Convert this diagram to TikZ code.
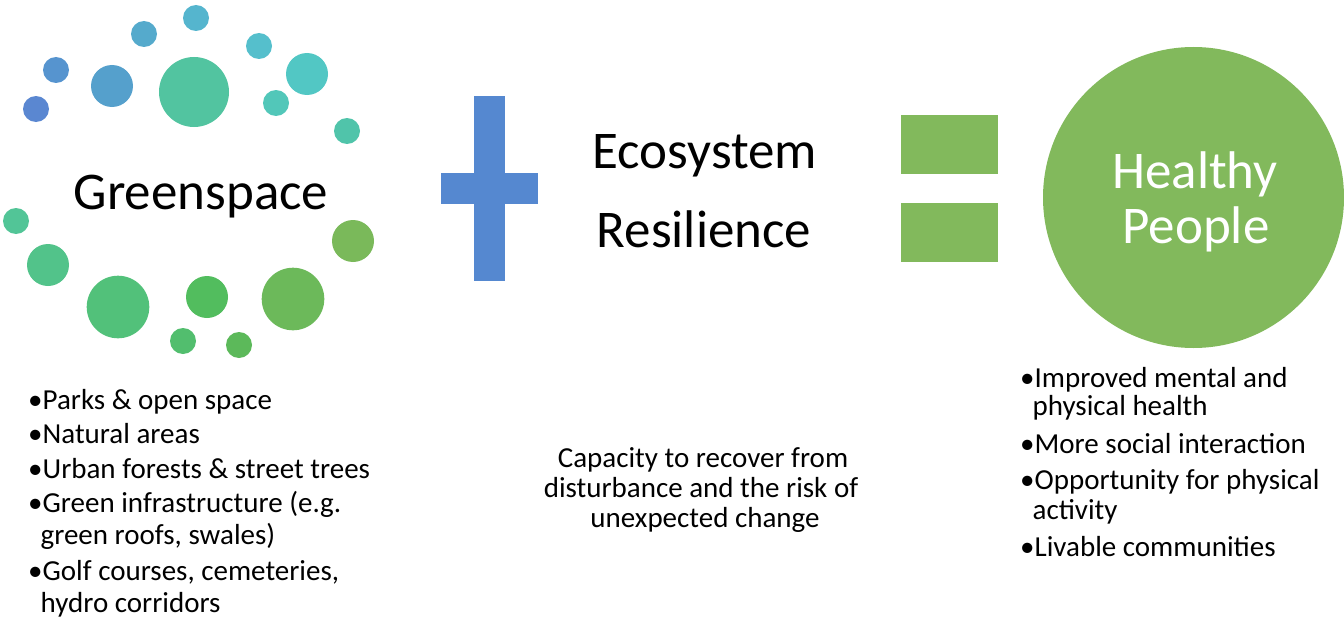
\documentclass[tikz,border=0pt]{standalone}
\usepackage{fontspec}
\setmainfont{Carlito}

\definecolor{plusblue}{HTML}{5588D0}
\definecolor{eqgreen}{HTML}{82B95C}
\definecolor{dotA}{HTML}{5A87D1}
\definecolor{dotB}{HTML}{5694CF}
\definecolor{dotC}{HTML}{55A0CC}
\definecolor{dotD}{HTML}{55AACC}
\definecolor{dotE}{HTML}{55B5CE}
\definecolor{dotF}{HTML}{55BFCC}
\definecolor{dotG}{HTML}{52C7C4}
\definecolor{dotH}{HTML}{52C7B9}
\definecolor{dotI}{HTML}{50C4AA}
\definecolor{dotJ}{HTML}{52C4A0}
\definecolor{dotK}{HTML}{52C597}
\definecolor{dotL}{HTML}{52C38A}
\definecolor{dotM}{HTML}{52C17A}
\definecolor{dotN}{HTML}{52BE6E}
\definecolor{dotO}{HTML}{52BD5E}
\definecolor{dotP}{HTML}{5CB95A}
\definecolor{dotQ}{HTML}{6CB95A}
\definecolor{dotR}{HTML}{7AB95A}

\tikzset{
  bigtext/.style={font=\fontsize{53}{63}\selectfont, anchor=base, inner sep=0pt},
  listtext/.style={font=\fontsize{29}{35}\selectfont, anchor=base west, inner sep=0pt},
  midtext/.style={font=\fontsize{29}{35}\selectfont, anchor=base, inner sep=0pt}
}

\begin{document}
\begin{tikzpicture}[x=1pt,y=-1pt]
\useasboundingbox (0,0) rectangle (1344,626);

% bubbles round Greenspace
\fill[dotA] (36,109) circle (13);
\fill[dotB] (56,70) circle (13);
\fill[dotC] (112,86) circle (21);
\fill[dotD] (144,34) circle (13);
\fill[dotE] (196,18) circle (13);
\fill[dotF] (259,46) circle (13);
\fill[dotG] (307,74) circle (21);
\fill[dotH] (276,103) circle (13);
\fill[dotI] (347,131) circle (13);
\fill[dotJ] (194,92) circle (35);
\fill[dotK] (16,221) circle (13);
\fill[dotL] (48,265) circle (21);
\fill[dotM] (118,307) circle (31.3);
\fill[dotN] (183,341) circle (13);
\fill[dotO] (207,297) circle (21);
\fill[dotP] (239,345) circle (13);
\fill[dotQ] (293,299) circle (31.3);
\fill[dotR] (353,241) circle (21);

\node[bigtext](green) at (201,209) {Greenspace};

% plus
\fill[plusblue] (441,173) rectangle (538,204);
\fill[plusblue] (474,96) rectangle (505,281);

\node[bigtext](eco) at (705,168) {Ecosystem};
\node[bigtext](resil) at (704,247) {Resilience};

% equals
\fill[eqgreen] (901,115) rectangle (998,174);
\fill[eqgreen] (901,203) rectangle (998,262);

\node[circle, fill=eqgreen, minimum size=301pt, inner sep=0pt](people) at (1193.5,197.5) {};
\node[bigtext, text=white](healthy) at (1195,188) {Healthy};
\node[bigtext, text=white](peop) at (1196,243) {People};

% greenspace list
\node[listtext](parks) at (28,409) {•Parks \& open space};
\node[listtext](natural) at (28,443) {•Natural areas};
\node[listtext](urban) at (28,478) {•Urban forests \& street trees};
\node[listtext](infra) at (28,512) {•Green infrastructure (e.g.};
\node[listtext](infrb) at (26,544) {\phantom{•}green roofs, swales)};
\node[listtext](golf) at (28,580) {•Golf courses, cemeteries,};
\node[listtext](golfb) at (26,612) {\phantom{•}hydro corridors};

% resilience text
\node[midtext](capa) at (703,467) {Capacity to recover from};
\node[midtext](capb) at (701,497) {disturbance and the risk of};
\node[midtext](capc) at (705,527) {unexpected change};

% healthy people list
\node[listtext](mental) at (1020,387) {•Improved mental and};
\node[listtext](mentalb) at (1018,415) {\phantom{•}physical health};
\node[listtext](social) at (1020,453) {•More social interaction};
\node[listtext](activ) at (1020,489) {•Opportunity for physical};
\node[listtext](activb) at (1018,519) {\phantom{•}activity};
\node[listtext](livable) at (1020,556) {•Livable communities};

\end{tikzpicture}
\end{document}
